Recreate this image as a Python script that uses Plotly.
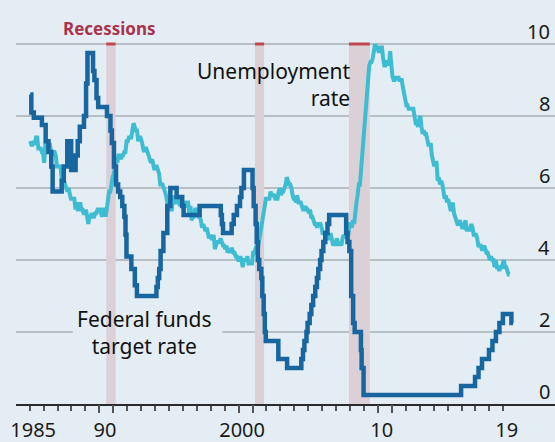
import plotly.graph_objects as go

# ---------------- data ----------------
years = list(range(1985, 2020))
unemp_by_year = [
    [7.3, 7.2, 7.2, 7.3, 7.2, 7.4, 7.4, 7.1, 7.1, 7.1, 7.0, 7.0],  # 1985
    [6.7, 7.2, 7.2, 7.1, 7.2, 7.2, 7.0, 6.9, 7.0, 7.0, 6.9, 6.6],
    [6.6, 6.6, 6.6, 6.3, 6.3, 6.2, 6.1, 6.0, 5.9, 6.0, 5.8, 5.7],
    [5.7, 5.7, 5.7, 5.4, 5.6, 5.4, 5.4, 5.6, 5.4, 5.4, 5.3, 5.3],
    [5.4, 5.2, 5.0, 5.2, 5.2, 5.3, 5.2, 5.2, 5.3, 5.3, 5.4, 5.4],
    [5.4, 5.3, 5.2, 5.4, 5.4, 5.2, 5.5, 5.7, 5.9, 5.9, 6.2, 6.3],  # 1990
    [6.4, 6.6, 6.8, 6.7, 6.9, 6.9, 6.8, 6.9, 6.9, 7.0, 7.0, 7.3],
    [7.3, 7.4, 7.4, 7.4, 7.6, 7.8, 7.7, 7.6, 7.6, 7.3, 7.4, 7.4],
    [7.3, 7.1, 7.0, 7.1, 7.1, 7.0, 6.9, 6.8, 6.7, 6.8, 6.6, 6.5],
    [6.6, 6.6, 6.5, 6.4, 6.1, 6.1, 6.1, 6.0, 5.9, 5.8, 5.6, 5.5],
    [5.6, 5.4, 5.4, 5.8, 5.6, 5.6, 5.7, 5.7, 5.6, 5.5, 5.6, 5.6],  # 1995
    [5.6, 5.5, 5.5, 5.6, 5.6, 5.3, 5.5, 5.1, 5.2, 5.2, 5.4, 5.4],
    [5.3, 5.2, 5.2, 5.1, 4.9, 5.0, 4.9, 4.8, 4.9, 4.7, 4.6, 4.7],
    [4.6, 4.6, 4.7, 4.3, 4.4, 4.5, 4.5, 4.5, 4.6, 4.5, 4.4, 4.4],
    [4.3, 4.4, 4.2, 4.3, 4.2, 4.3, 4.3, 4.2, 4.2, 4.1, 4.1, 4.0],
    [4.0, 4.1, 4.0, 3.8, 4.0, 4.0, 4.0, 4.1, 3.9, 3.9, 3.9, 3.9],  # 2000
    [4.2, 4.2, 4.3, 4.4, 4.3, 4.5, 4.6, 4.9, 5.0, 5.3, 5.5, 5.7],
    [5.7, 5.7, 5.7, 5.9, 5.8, 5.8, 5.8, 5.7, 5.7, 5.7, 5.9, 6.0],
    [5.8, 5.9, 5.9, 6.0, 6.1, 6.3, 6.2, 6.1, 6.1, 6.0, 5.8, 5.7],
    [5.7, 5.6, 5.8, 5.6, 5.6, 5.6, 5.5, 5.4, 5.4, 5.5, 5.4, 5.4],
    [5.3, 5.4, 5.2, 5.2, 5.1, 5.0, 5.0, 4.9, 5.0, 5.0, 5.0, 4.9],  # 2005
    [4.7, 4.8, 4.7, 4.7, 4.6, 4.6, 4.7, 4.7, 4.5, 4.4, 4.5, 4.4],
    [4.6, 4.5, 4.4, 4.5, 4.4, 4.6, 4.7, 4.6, 4.7, 4.7, 4.7, 5.0],
    [5.0, 4.9, 5.1, 5.0, 5.4, 5.6, 5.8, 6.1, 6.1, 6.5, 6.8, 7.3],
    [7.8, 8.3, 8.7, 9.0, 9.4, 9.5, 9.5, 9.6, 9.8, 10.0, 9.9, 9.9],
    [9.8, 9.8, 9.9, 9.9, 9.6, 9.4, 9.4, 9.5, 9.5, 9.4, 9.8, 9.3],  # 2010
    [9.1, 9.0, 9.0, 9.1, 9.0, 9.1, 9.0, 9.0, 9.0, 8.8, 8.6, 8.5],
    [8.3, 8.3, 8.2, 8.2, 8.2, 8.2, 8.2, 8.0, 7.8, 7.8, 7.7, 7.9],
    [8.0, 7.7, 7.5, 7.6, 7.5, 7.5, 7.3, 7.2, 7.2, 7.2, 6.9, 6.7],
    [6.6, 6.7, 6.7, 6.2, 6.3, 6.1, 6.2, 6.1, 5.9, 5.7, 5.8, 5.6],
    [5.7, 5.5, 5.4, 5.4, 5.6, 5.3, 5.2, 5.1, 5.0, 5.0, 5.1, 5.0],  # 2015
    [4.9, 4.9, 5.0, 5.1, 4.8, 4.9, 4.8, 4.9, 5.0, 4.9, 4.7, 4.7],
    [4.7, 4.6, 4.4, 4.4, 4.4, 4.3, 4.3, 4.4, 4.3, 4.2, 4.2, 4.1],
    [4.0, 4.1, 4.0, 4.0, 3.8, 4.0, 3.8, 3.8, 3.7, 3.8, 3.8, 3.9],
    [4.0, 3.8, 3.8, 3.7, 3.6, 3.6],                                # 2019
]

fed_dates = [1985.05, 1985.12, 1985.3, 1985.88, 1986.15, 1986.35, 1986.55, 1986.65,
             1987.3, 1987.45, 1987.7, 1987.98, 1988.3, 1988.45, 1988.6, 1988.9,
             1989.05, 1989.15, 1989.55, 1989.65, 1989.8, 1989.92, 1990.55, 1990.8,
             1990.9, 1991.05, 1991.2, 1991.35, 1991.5, 1991.65, 1991.8, 1991.88,
             1991.95, 1992.3, 1992.55, 1992.7, 1994.1, 1994.2, 1994.3, 1994.4,
             1994.6, 1994.88, 1995.1, 1995.55, 1995.95, 1996.05, 1997.2, 1998.72,
             1998.8, 1998.88, 1999.5, 1999.65, 1999.88, 2000.1, 2000.2, 2000.38,
             2001.0, 2001.08, 2001.22, 2001.3, 2001.38, 2001.48, 2001.63, 2001.7,
             2001.8, 2001.88, 2001.95, 2002.85, 2003.48, 2004.5, 2004.62, 2004.72,
             2004.87, 2004.95, 2005.1, 2005.22, 2005.35, 2005.5, 2005.62, 2005.72,
             2005.85, 2005.95, 2006.08, 2006.22, 2006.38, 2006.5, 2007.72, 2007.82,
             2007.95, 2008.08, 2008.22, 2008.33, 2008.78, 2008.83, 2008.97, 2015.97,
             2016.97, 2017.22, 2017.47, 2017.97, 2018.22, 2018.47, 2018.72, 2018.97,
             2019.58, 2019.7]
fed_values = [8.6, 8.1, 7.95, 7.75, 7.3, 7.0, 6.6, 5.9,
              6.2, 6.6, 7.3, 6.5, 6.9, 7.3, 7.7, 8.0,
              8.9, 9.75, 9.25, 9.0, 8.5, 8.25, 8.0, 7.6,
              7.25, 6.6, 6.1, 5.9, 5.75, 5.5, 5.2, 4.7,
              4.1, 3.75, 3.3, 3.0, 3.25, 3.5, 3.75, 4.25,
              4.75, 5.5, 6.0, 5.75, 5.5, 5.25, 5.5, 5.25,
              5.0, 4.75, 5.0, 5.25, 5.5, 5.75, 6.0, 6.5,
              6.0, 5.5, 5.0, 4.5, 4.0, 3.75, 3.5, 3.0,
              2.5, 2.0, 1.75, 1.25, 1.0, 1.25, 1.5, 1.75,
              2.0, 2.25, 2.5, 2.75, 3.0, 3.25, 3.5, 3.75,
              4.0, 4.25, 4.5, 4.75, 5.0, 5.25, 4.75, 4.5,
              4.25, 3.0, 2.25, 2.0, 1.5, 1.0, 0.25, 0.5,
              0.75, 1.0, 1.25, 1.5, 1.75, 2.0, 2.25, 2.5,
              2.25, 2.25]

recession_starts = [1990.5, 2001.17, 2007.92]
recession_ends = [1991.17, 2001.83, 2009.42]

x_tick_pos = [1985.25, 1990.4, 2000.25, 2010.27, 2019.25]
x_tick_text = ["1985", "90", "2000", "10", "19"]
year_ticks = list(range(1985, 2020))
long_ticks = [1990, 1991, 2000, 2001, 2010, 2011]
y_ticks = [0, 2, 4, 6, 8, 10]
y_tick_text = ["0", "2", "4", "6", "8", "10"]

# ---------------- styling ----------------
BG = "#e4edf3"
CYAN = "#3ebcd2"
DARK = "#1766a0"
FONT = "Noto Sans"
X_RANGE = [1984.02, 2022.71]

unemp_x, unemp_y = [], []
for yr, vals in zip(years, unemp_by_year):
    for m, v in enumerate(vals):
        unemp_x.append(yr + (m + 0.5) / 12)
        unemp_y.append(v)

fig = go.Figure()
fig.add_trace(go.Scatter(x=unemp_x, y=unemp_y, mode="lines",
                         line=dict(color=CYAN, width=4), hoverinfo="skip"))
fig.add_trace(go.Scatter(x=fed_dates, y=fed_values, mode="lines",
                         line=dict(color=DARK, width=4.5, shape="hv"), hoverinfo="skip"))
fig.add_trace(go.Scatter(x=[], y=[], xaxis="x2", showlegend=False))

# label for fed funds: gridline gap behind it (shading stays visible)
fed_lab_x, fed_lab_y = 1993.24, 1.99
fig.add_shape(type="rect", xref="x", yref="y", x0=fed_lab_x - 5.15, x1=fed_lab_x + 5.6,
              y0=1.93, y1=2.07, fillcolor=BG, line_width=0, layer="between")

for s, e in zip(recession_starts, recession_ends):
    fig.add_shape(type="rect", xref="x", yref="y", x0=s, x1=e, y0=0, y1=10,
                  fillcolor="#dcd0d7", line_width=0, layer="between")
    fig.add_shape(type="line", xref="x", yref="y", x0=s, x1=e, y0=10, y1=10,
                  line=dict(color="#c4464f", width=3), layer="above")

fig.add_annotation(x=1990.73, y=10.44, xref="x", yref="y", text="<b>Recessions</b>",
                   showarrow=False, font=dict(family=FONT, size=17, color="#a8344b"))
fig.add_annotation(x=2008.21, y=8.875, xref="x", yref="y", text="Unemployment<br>rate",
                   showarrow=False, xanchor="right", align="right",
                   font=dict(family=FONT, size=21, color="#111111"))
fig.add_annotation(x=fed_lab_x, y=fed_lab_y, xref="x", yref="y",
                   text="Federal funds<br>target rate",
                   showarrow=False, xanchor="center", align="center",
                   font=dict(family=FONT, size=21, color="#111111"))

# right-hand value labels sitting above each gridline
for v, t in zip(y_ticks, y_tick_text):
    fig.add_annotation(x=1, y=v, xref="paper", yref="y", text=t, showarrow=False,
                       xanchor="right", yanchor="middle", xshift=-3, yshift=13,
                       font=dict(family=FONT, size=20, color="#1a1a1a"))

fig.update_layout(
    width=555, height=442,
    margin=dict(l=16, r=0, t=8, b=38, autoexpand=False),
    paper_bgcolor=BG, plot_bgcolor=BG,
    showlegend=False,
    font=dict(family=FONT, color="#1a1a1a"),
    xaxis=dict(range=X_RANGE, showgrid=False, zeroline=False, automargin=False,
               showline=True, linecolor="#2a2a2a", linewidth=2,
               tickmode="array", tickvals=x_tick_pos, ticktext=x_tick_text,
               ticks="", ticklabelstandoff=7, tickfont=dict(size=20, color="#1a1a1a"),
               minor=dict(tickmode="array", tickvals=year_ticks, ticks="outside",
                          ticklen=5, tickwidth=1.5, tickcolor="#555555", showgrid=False)),
    xaxis2=dict(range=X_RANGE, overlaying="x", anchor="y", side="bottom", automargin=False,
                showgrid=False, zeroline=False, showline=False, showticklabels=False,
                tickmode="array", tickvals=long_ticks, ticks="outside", ticklen=8,
                tickwidth=1.5, tickcolor="#555555"),
    yaxis=dict(range=[0, 11], side="right", tickmode="array", tickvals=y_ticks,
               ticks="", showticklabels=False, showgrid=True, automargin=False,
               gridcolor="#b7bfc5", gridwidth=1.5, zeroline=False, showline=False),
)

fig.write_html(
    "out.html",
    config={"displayModeBar": False},
    post_script="document.body.style.margin='0';document.body.style.overflow='hidden';",
)
